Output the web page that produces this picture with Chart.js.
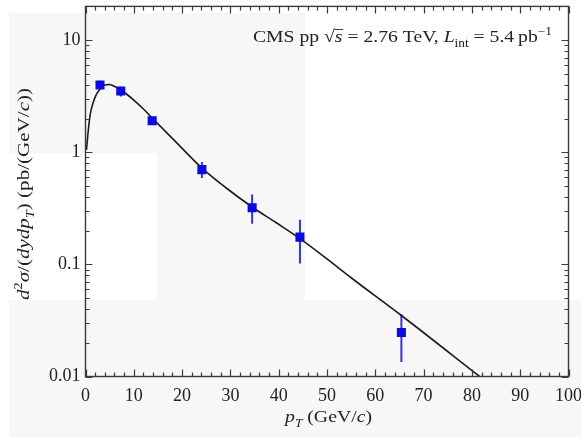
<!DOCTYPE html>
<html>
<head>
<meta charset="utf-8">
<script src="https://cdn.jsdelivr.net/npm/chart.js@4/dist/chart.umd.min.js"></script>
<style>
  html, body { margin: 0; padding: 0; background: #ffffff; }
  #wrap { width: 581px; height: 437px; position: relative; }
</style>
</head>
<body>
<div id="wrap"><canvas id="c" width="581" height="437"></canvas></div>
<script>
// ---- data ----
const pointPt   = [3.0, 7.3, 13.8, 24.1, 34.5, 44.4, 65.4];
const pointVal  = [3.98, 3.52, 1.91, 0.70, 0.32, 0.175, 0.0247];
const errLow    = [3.60, 3.15, 1.79, 0.59, 0.23, 0.102, 0.0135];
const errHigh   = [4.35, 3.85, 2.02, 0.82, 0.42, 0.250, 0.036];

const curvePt   = [0.2, 0.6, 1.0, 1.5, 2.2, 3.0, 4.0, 5.0, 6.2, 8.0, 10.0, 12.0, 13.8, 16.0, 19.0, 24.3, 29.0, 34.5, 39.5, 44.4, 50.0, 55.0, 65.4, 81.6];
const curveVal  = [1.05, 1.6, 2.2, 2.7, 3.25, 3.65, 3.98, 4.02, 3.83, 3.43, 2.92, 2.43, 2.02, 1.62, 1.20, 0.71, 0.485, 0.325, 0.235, 0.170, 0.112, 0.076, 0.035, 0.010];

const xTickVals   = [0, 10, 20, 30, 40, 50, 60, 70, 80, 90, 100];
const xTickLabels = ['0', '10', '20', '30', '40', '50', '60', '70', '80', '90', '100'];
const yTickVals   = [0.01, 0.1, 1, 10];
const yTickLabels = ['0.01', '0.1', '1', '10'];

const annotationRuns = [
  {t: 'CMS pp '}, {t: '\u221A'}, {t: 's', i: 1, ol: 1}, {t: ' = 2.76 TeV, '},
  {t: 'L', i: 1}, {t: 'int', sub: 1}, {t: ' = 5.4\u2009pb'}, {t: '\u22121', sup: 1}
];
const yTitleRuns = [
  {t: 'd', i: 1}, {t: '2', sup: 1}, {t: '\u03C3', i: 1}, {t: '/('}, {t: 'dydp', i: 1},
  {t: 'T', i: 1, sub: 1}, {t: ') (pb/(GeV/'}, {t: 'c', i: 1}, {t: '))'}
];
const xTitleRuns = [
  {t: 'p', i: 1}, {t: 'T', i: 1, sub: 1}, {t: ' (GeV/'}, {t: 'c', i: 1}, {t: ')'}
];

// ---- helpers ----
const SERIF = '"Liberation Serif", "Times New Roman", serif';
function fontFor(r, size) {
  const s = (r.sub || r.sup) ? size * 0.68 : size;
  return (r.i ? 'italic ' : '') + s.toFixed(2) + 'px ' + SERIF;
}
function measureRuns(ctx, runs, size) {
  let w = 0;
  runs.forEach(r => { ctx.font = fontFor(r, size); r.w = ctx.measureText(r.t).width; w += r.w; });
  return w;
}
function drawRuns(ctx, runs, size, x0, y0) {
  let x = x0;
  runs.forEach(r => {
    ctx.font = fontFor(r, size);
    const dy = r.sub ? size * 0.28 : (r.sup ? -size * 0.40 : 0);
    ctx.fillText(r.t, x, y0 + dy);
    if (r.ol) {
      ctx.beginPath();
      ctx.lineWidth = 0.9;
      ctx.moveTo(x - 0.5, y0 - size * 0.74);
      ctx.lineTo(x + r.w + 0.5, y0 - size * 0.74);
      ctx.stroke();
    }
    x += r.w;
  });
}

const bgPlugin = {
  id: 'bg',
  beforeDraw(chart) {
    const ctx = chart.ctx;
    ctx.save();
    ctx.fillStyle = '#ffffff';
    ctx.fillRect(0, 0, chart.width, chart.height);
    ctx.fillStyle = '#f7f7f7';
    ctx.fillRect(9, 13, 296, 140);
    ctx.fillRect(157, 153, 148, 147);
    ctx.fillRect(9, 300, 572, 137);
    ctx.restore();
  }
};

const errPlugin = {
  id: 'errbars',
  beforeDatasetsDraw(chart) {
    const ctx = chart.ctx, xs = chart.scales.x, ys = chart.scales.y, a = chart.chartArea;
    ctx.save();
    ctx.beginPath(); ctx.rect(a.left, a.top, a.right - a.left, a.bottom - a.top); ctx.clip();
    ctx.strokeStyle = '#3434dc';
    ctx.lineWidth = 2;
    pointPt.forEach((p, k) => {
      const x = xs.getPixelForValue(p);
      ctx.beginPath();
      ctx.moveTo(x, ys.getPixelForValue(errLow[k]));
      ctx.lineTo(x, ys.getPixelForValue(errHigh[k]));
      ctx.stroke();
    });
    ctx.restore();
  }
};

const framePlugin = {
  id: 'frame',
  afterDraw(chart) {
    const ctx = chart.ctx, xs = chart.scales.x, ys = chart.scales.y, a = chart.chartArea;
    ctx.save();
    ctx.strokeStyle = '#3a3a3a';
    ctx.lineWidth = 1.4;
    ctx.strokeRect(a.left, a.top, a.right - a.left, a.bottom - a.top);
    ctx.lineWidth = 1.2;
    ctx.beginPath();
    for (let v = xs.min; v <= xs.max + 1e-9; v += 2) {
      const x = Math.round(xs.getPixelForValue(v)) + 0.5;
      const len = (Math.abs(v % 10) < 1e-9) ? 7 : 4;
      ctx.moveTo(x, a.bottom); ctx.lineTo(x, a.bottom - len);
      ctx.moveTo(x, a.top); ctx.lineTo(x, a.top + len);
    }
    for (let e = -2; e <= 1; e++) {
      for (let m = 1; m <= 9; m++) {
        const v = m * Math.pow(10, e);
        if (v < ys.min - 1e-12 || v > ys.max + 1e-9) continue;
        const y = Math.round(ys.getPixelForValue(v)) + 0.5;
        const len = (m === 1) ? 7 : 4;
        ctx.moveTo(a.left, y); ctx.lineTo(a.left + len, y);
        ctx.moveTo(a.right, y); ctx.lineTo(a.right - len, y);
      }
    }
    ctx.stroke();

    ctx.fillStyle = '#222222';
    ctx.strokeStyle = '#222222';
    ctx.textBaseline = 'alphabetic';
    ctx.textAlign = 'left';
    const sz = 17;
    let w = measureRuns(ctx, annotationRuns, sz);
    ctx.save();
    ctx.translate(253, 42);
    ctx.scale(299 / w, 1);
    drawRuns(ctx, annotationRuns, sz, 0, 0);
    ctx.restore();
    w = measureRuns(ctx, xTitleRuns, sz);
    ctx.save();
    ctx.translate(285, 422);
    ctx.scale(87 / w, 1);
    drawRuns(ctx, xTitleRuns, sz, 0, 0);
    ctx.restore();
    w = measureRuns(ctx, yTitleRuns, sz);
    ctx.save();
    ctx.translate(29, 194);
    ctx.rotate(-Math.PI / 2);
    ctx.scale(212 / w, 1);
    drawRuns(ctx, yTitleRuns, sz, -w / 2, 0);
    ctx.restore();
    ctx.restore();
  }
};

new Chart(document.getElementById('c'), {
  type: 'scatter',
  data: {
    datasets: [
      {
        label: 'CMS data',
        data: pointPt.map((p, k) => ({x: p, y: pointVal[k]})),
        pointStyle: 'rect',
        pointRadius: 6.4,
        pointBackgroundColor: '#0a0ae0',
        pointBorderWidth: 0,
        showLine: false,
        order: 0
      },
      {
        label: 'curve',
        data: curvePt.map((p, k) => ({x: p, y: curveVal[k]})),
        showLine: true,
        borderColor: '#1c1c1c',
        borderWidth: 1.6,
        pointRadius: 0,
        cubicInterpolationMode: 'monotone',
        fill: false,
        order: 1
      }
    ]
  },
  options: {
    responsive: false,
    animation: false,
    devicePixelRatio: 1,
    layout: { padding: { left: 0, right: 12.5, top: 5, bottom: 0 } },
    plugins: { legend: { display: false }, tooltip: { enabled: false }, title: { display: false } },
    scales: {
      x: {
        type: 'linear', min: 0, max: 100,
        grid: { display: false, drawTicks: false },
        border: { display: false },
        afterBuildTicks(s) { s.ticks = xTickVals.map(v => ({value: v})); },
        afterFit(s) { s.height = 60.5; s.paddingLeft = 0; s.paddingRight = 0; },
        ticks: {
          padding: 9,
          color: '#222222',
          font: { family: SERIF, size: 18 },
          maxRotation: 0,
          autoSkip: false,
          callback: (v, i) => xTickLabels[i]
        }
      },
      y: {
        type: 'logarithmic', min: 0.01, max: 20,
        grid: { display: false, drawTicks: false },
        border: { display: false },
        afterBuildTicks(s) { s.ticks = yTickVals.map(v => ({value: v})); },
        afterFit(s) { s.width = 85.5; s.paddingTop = 0; s.paddingBottom = 0; },
        ticks: {
          padding: 5,
          color: '#222222',
          font: { family: SERIF, size: 18 },
          autoSkip: false,
          callback: (v, i) => yTickLabels[i]
        }
      }
    }
  },
  plugins: [bgPlugin, errPlugin, framePlugin]
});
</script>
</body>
</html>
